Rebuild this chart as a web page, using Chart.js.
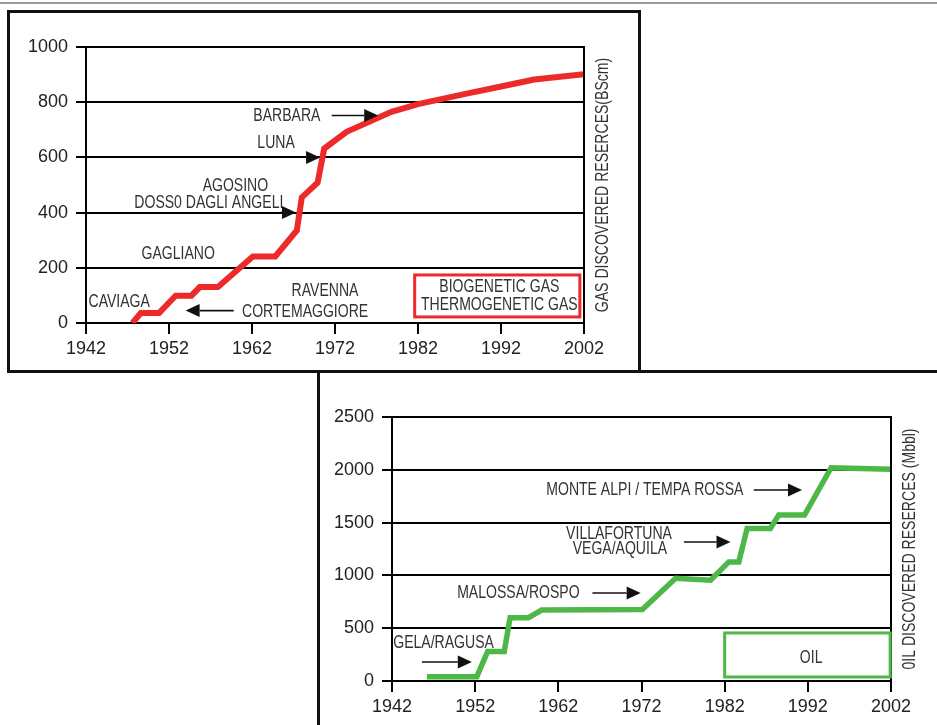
<!DOCTYPE html>
<html>
<head>
<meta charset="utf-8">
<script src="https://cdn.jsdelivr.net/npm/chart.js@4.4.1/dist/chart.umd.min.js"></script>
<style>
  html, body { margin: 0; padding: 0; background: #fff; width: 937px; height: 725px; overflow: hidden; position: relative; }
  .rule { position: absolute; left: 0; top: 2px; width: 937px; height: 2px; background: #9a9a9a; }
  .frame { position: absolute; border: 3px solid #111; box-sizing: border-box; }
  canvas { position: absolute; left: 0; top: 0; }
</style>
</head>
<body>
<div class="rule"></div>
<div class="frame" style="left:7px;top:10px;width:634px;height:363px;"></div>
<div class="frame" style="left:317px;top:370px;width:700px;height:400px;"></div>
<canvas id="gas" width="937" height="725"></canvas>
<canvas id="oil" width="937" height="725"></canvas>
<script>
// Cumulative gas discovered reserves (BScm) by year
const gasYears  = [1947.6, 1948.6, 1950.8, 1952.8, 1954.7, 1955.7, 1957.9, 1962.1, 1964.8, 1967.4, 1968.0, 1969.9, 1970.7, 1973.4, 1978.8, 1982, 1988, 1992, 1996, 2002];
const gasValues = [0, 36, 36, 99, 99, 130, 130, 241, 241, 335, 455, 508, 632, 693, 765, 793, 832, 857, 882, 901];

// Cumulative oil discovered reserves (Mbbl) by year
const oilYears  = [1946.2, 1952.2, 1953.5, 1955.5, 1956.2, 1958.4, 1960.0, 1972.1, 1976.1, 1980.3, 1982.5, 1983.7, 1984.7, 1987.5, 1988.5, 1991.6, 1994.8, 2002];
const oilValues = [41, 41, 280, 280, 600, 600, 672, 676, 972, 955, 1128, 1128, 1445, 1445, 1573, 1572, 2020, 2006];

// Axis ticks
const yearTicks = [1942, 1952, 1962, 1972, 1982, 1992, 2002];
const gasTicks  = [0, 200, 400, 600, 800, 1000];
const oilTicks  = [0, 500, 1000, 1500, 2000, 2500];

// Field names placed on each chart
const gasFields = ['CAVIAGA', 'GAGLIANO', 'AGOSINO', 'DOSS0 DAGLI ANGELI', 'LUNA', 'BARBARA', 'RAVENNA', 'CORTEMAGGIORE'];
const oilFields = ['GELA/RAGUSA', 'MALOSSA/ROSPO', 'VILLAFORTUNA', 'VEGA/AQUILA', 'MONTE ALPI / TEMPA ROSSA'];

const RED = '#ec2a2a';
const GREEN = '#4db848';
const FONT = '"Liberation Sans", Arial, sans-serif';

Chart.defaults.font.family = FONT;
Chart.defaults.color = '#222';

// Draws field labels, arrows, the legend box, the right frame and the rotated axis title
const notesPlugin = {
  id: 'notes',
  afterDraw(chart, args, opts) {
    const { ctx, chartArea, scales } = chart;
    const sx = scales.x, sy = scales.y;
    const X = v => sx.getPixelForValue(v);
    const Y = v => sy.getPixelForValue(v);
    ctx.save();

    // right edge of the plot frame
    ctx.strokeStyle = '#000';
    ctx.lineWidth = 2;
    ctx.beginPath();
    ctx.moveTo(chartArea.right, chartArea.top - 1);
    ctx.lineTo(chartArea.right, chartArea.bottom + 1);
    ctx.stroke();

    const condensed = (text, px, py, rot) => {
      ctx.save();
      ctx.translate(px, py);
      if (rot) ctx.rotate(rot);
      ctx.scale(0.78, 1);
      ctx.fillText(text, 0, 0);
      ctx.restore();
    };

    ctx.font = '18px ' + FONT;
    ctx.textAlign = 'center';
    ctx.textBaseline = 'middle';
    ctx.fillStyle = '#333';

    // legend box
    if (opts.box) {
      const b = opts.box;
      ctx.strokeStyle = b.color;
      ctx.lineWidth = 3;
      ctx.strokeRect(X(b.x1), Y(b.y2), X(b.x2) - X(b.x1), Y(b.y1) - Y(b.y2));
      b.lines.forEach(l => condensed(l.text, X(l.x), Y(l.y)));
    }

    // labels
    opts.labels.forEach(l => condensed(l.text, X(l.x), Y(l.y)));

    // arrows
    ctx.strokeStyle = '#111';
    ctx.fillStyle = '#111';
    opts.arrows.forEach(a => {
      const x1 = X(a.from), x2 = X(a.to), py = Y(a.y);
      const dir = Math.sign(x2 - x1);
      const head = 14, half = 6.5;
      if (Math.abs(x2 - x1) > head) {
        ctx.lineWidth = 1.6;
        ctx.beginPath();
        ctx.moveTo(x1, py);
        ctx.lineTo(x2 - dir * head, py);
        ctx.stroke();
      }
      ctx.beginPath();
      ctx.moveTo(x2, py);
      ctx.lineTo(x2 - dir * head, py - half);
      ctx.lineTo(x2 - dir * head, py + half);
      ctx.closePath();
      ctx.fill();
    });

    // rotated axis title on the right
    ctx.fillStyle = '#333';
    condensed(opts.title, chartArea.right + 19, (chartArea.top + chartArea.bottom) / 2, -Math.PI / 2);

    ctx.restore();
  }
};

function makeOptions(yTicks, pad, notes) {
  return {
    responsive: false,
    animation: false,
    layout: { padding: pad },
    plugins: { legend: { display: false }, tooltip: { enabled: false }, notes: notes },
    elements: { point: { radius: 0 } },
    scales: {
      x: {
        type: 'linear',
        min: yearTicks[0],
        max: yearTicks[yearTicks.length - 1],
        afterFit: s => { s.height = 40; },
        afterBuildTicks: s => { s.ticks = yearTicks.map(v => ({ value: v })); },
        ticks: { font: { size: 18 }, color: '#222', padding: 4, maxRotation: 0, callback: v => String(v) },
        grid: { drawOnChartArea: false, drawTicks: true, tickLength: 11, color: '#000', lineWidth: 2 },
        border: { display: true, color: '#000', width: 2 }
      },
      y: {
        type: 'linear',
        min: yTicks[0],
        max: yTicks[yTicks.length - 1],
        afterFit: s => { s.width = 60; },
        afterBuildTicks: s => { s.ticks = yTicks.map(v => ({ value: v })); },
        ticks: { font: { size: 18 }, color: '#222', padding: 8, callback: v => String(v) },
        grid: { color: '#000', lineWidth: 2, drawTicks: true, tickLength: 10 },
        border: { display: true, color: '#000', width: 2 }
      }
    }
  };
}

new Chart(document.getElementById('gas'), {
  type: 'line',
  data: {
    datasets: [{
      data: gasYears.map((yr, i) => ({ x: yr, y: gasValues[i] })),
      borderColor: RED,
      borderWidth: 6,
      tension: 0,
      borderJoinStyle: 'miter',
      borderCapStyle: 'butt'
    }]
  },
  plugins: [notesPlugin],
  options: makeOptions(gasTicks, { left: 26, right: 353, top: 47, bottom: 362 }, {
    title: 'GAS DISCOVERED RESERCES(BScm)',
    labels: [
      { text: gasFields[0], x: 1946.0, y: 76 },
      { text: gasFields[1], x: 1953.1, y: 250 },
      { text: gasFields[2], x: 1960.0, y: 496 },
      { text: gasFields[3], x: 1956.8, y: 435 },
      { text: gasFields[4], x: 1964.9, y: 652 },
      { text: gasFields[5], x: 1966.2, y: 750 },
      { text: gasFields[6], x: 1970.8, y: 116 },
      { text: gasFields[7], x: 1968.4, y: 40 }
    ],
    arrows: [
      { from: 1971.6, to: 1977.2, y: 752 },
      { from: 1968.6, to: 1970.2, y: 600 },
      { from: 1965.4, to: 1967.3, y: 400 },
      { from: 1959.8, to: 1954.0, y: 45 }
    ],
    box: {
      x1: 1981.6, x2: 2001.5, y1: 22, y2: 174, color: RED,
      lines: [
        { text: 'BIOGENETIC GAS', x: 1991.8, y: 130 },
        { text: 'THERMOGENETIC GAS', x: 1991.8, y: 65 }
      ]
    }
  })
});

new Chart(document.getElementById('oil'), {
  type: 'line',
  data: {
    datasets: [{
      data: oilYears.map((yr, i) => ({ x: yr, y: oilValues[i] })),
      borderColor: GREEN,
      borderWidth: 5.5,
      tension: 0,
      borderJoinStyle: 'miter',
      borderCapStyle: 'butt'
    }]
  },
  plugins: [notesPlugin],
  options: makeOptions(oilTicks, { left: 332, right: 46, top: 417, bottom: 4 }, {
    title: '0IL DISCOVERED RESERCES (Mbbl)',
    labels: [
      { text: oilFields[0], x: 1948.2, y: 360 },
      { text: oilFields[1], x: 1957.2, y: 833 },
      { text: oilFields[2], x: 1969.3, y: 1392 },
      { text: oilFields[3], x: 1969.4, y: 1250 },
      { text: oilFields[4], x: 1972.4, y: 1809 }
    ],
    arrows: [
      { from: 1945.6, to: 1951.6, y: 180 },
      { from: 1966.1, to: 1971.9, y: 833 },
      { from: 1977.1, to: 1982.7, y: 1316 },
      { from: 1985.5, to: 1991.3, y: 1809 }
    ],
    box: {
      x1: 1982.0, x2: 2001.9, y1: 38, y2: 455, color: GREEN,
      lines: [
        { text: 'OIL', x: 1992.4, y: 218 }
      ]
    }
  })
});
</script>
</body>
</html>
